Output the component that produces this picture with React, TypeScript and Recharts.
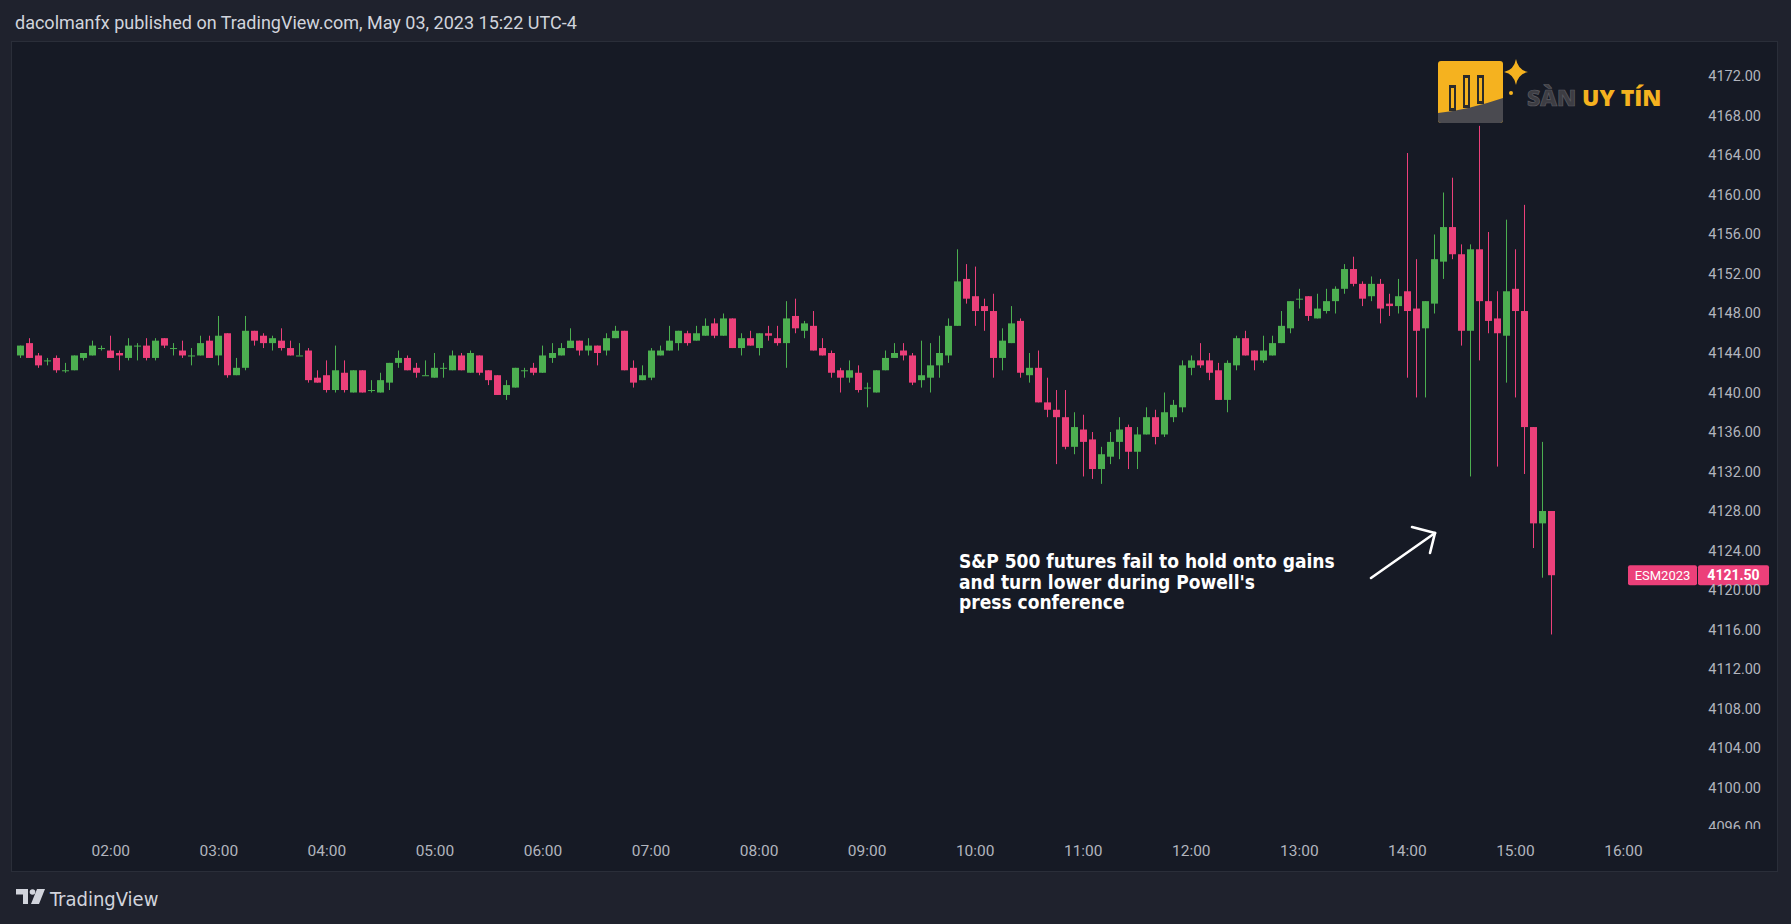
import React from "react";
import { ComposedChart, Bar, XAxis, YAxis, ReferenceLine } from "recharts";

// 5 minute candles, ESM2023, May 03 2023 (UTC-4)
const times = [
  "01:10", "01:15", "01:20", "01:25", "01:30", "01:35", "01:40", "01:45", "01:50", "01:55",
  "02:00", "02:05", "02:10", "02:15", "02:20", "02:25", "02:30", "02:35", "02:40", "02:45", "02:50", "02:55",
  "03:00", "03:05", "03:10", "03:15", "03:20", "03:25", "03:30", "03:35", "03:40", "03:45", "03:50", "03:55",
  "04:00", "04:05", "04:10", "04:15", "04:20", "04:25", "04:30", "04:35", "04:40", "04:45", "04:50", "04:55",
  "05:00", "05:05", "05:10", "05:15", "05:20", "05:25", "05:30", "05:35", "05:40", "05:45", "05:50", "05:55",
  "06:00", "06:05", "06:10", "06:15", "06:20", "06:25", "06:30", "06:35", "06:40", "06:45", "06:50", "06:55",
  "07:00", "07:05", "07:10", "07:15", "07:20", "07:25", "07:30", "07:35", "07:40", "07:45", "07:50", "07:55",
  "08:00", "08:05", "08:10", "08:15", "08:20", "08:25", "08:30", "08:35", "08:40", "08:45", "08:50", "08:55",
  "09:00", "09:05", "09:10", "09:15", "09:20", "09:25", "09:30", "09:35", "09:40", "09:45", "09:50", "09:55",
  "10:00", "10:05", "10:10", "10:15", "10:20", "10:25", "10:30", "10:35", "10:40", "10:45", "10:50", "10:55",
  "11:00", "11:05", "11:10", "11:15", "11:20", "11:25", "11:30", "11:35", "11:40", "11:45", "11:50", "11:55",
  "12:00", "12:05", "12:10", "12:15", "12:20", "12:25", "12:30", "12:35", "12:40", "12:45", "12:50", "12:55",
  "13:00", "13:05", "13:10", "13:15", "13:20", "13:25", "13:30", "13:35", "13:40", "13:45", "13:50", "13:55",
  "14:00", "14:05", "14:10", "14:15", "14:20", "14:25", "14:30", "14:35", "14:40", "14:45", "14:50", "14:55",
  "15:00", "15:05", "15:10", "15:15", "15:20",
];

const opens = [
  4143.75, 4145.0, 4143.75, 4143.25, 4143.5, 4142.25, 4142.25, 4143.5, 4143.75, 4144.5,
  4144.25, 4144.0, 4143.5, 4144.75, 4144.75, 4143.5, 4145.5, 4144.5, 4144.25, 4143.75, 4143.75, 4145.25,
  4143.75, 4146.0, 4141.75, 4142.5, 4146.25, 4145.75, 4145.0, 4145.25, 4144.5, 4143.75, 4144.25, 4141.5,
  4141.75, 4140.25, 4142.0, 4140.0, 4142.25, 4140.25, 4140.0, 4141.0, 4143.0, 4143.5, 4142.5, 4141.75,
  4141.5, 4142.5, 4142.25, 4143.75, 4142.0, 4143.75, 4142.25, 4141.75, 4139.75, 4140.5, 4142.25, 4142.5,
  4142.0, 4143.5, 4143.75, 4144.5, 4145.25, 4144.25, 4144.75, 4144.25, 4145.5, 4146.25, 4142.5, 4141.25,
  4141.5, 4143.75, 4144.25, 4145.0, 4146.0, 4145.25, 4145.75, 4147.0, 4145.75, 4147.5, 4144.5, 4145.5,
  4144.5, 4146.0, 4145.5, 4145.0, 4147.75, 4146.25, 4146.75, 4144.5, 4144.0, 4142.25, 4141.5, 4142.0,
  4140.5, 4140.0, 4142.25, 4143.5, 4144.25, 4143.75, 4141.25, 4141.5, 4142.75, 4143.75, 4146.75, 4151.5,
  4149.75, 4148.75, 4148.25, 4143.5, 4145.0, 4147.25, 4141.75, 4142.5, 4139.0, 4138.25, 4137.5, 4134.5,
  4136.25, 4135.25, 4132.25, 4133.5, 4135.0, 4136.5, 4134.0, 4135.75, 4137.5, 4135.75, 4137.5, 4138.5,
  4142.5, 4143.25, 4143.25, 4142.25, 4139.25, 4142.75, 4145.5, 4144.25, 4143.25, 4143.75, 4145.0, 4146.5,
  4149.5, 4149.75, 4147.5, 4148.25, 4149.25, 4150.5, 4152.5, 4151.0, 4149.75, 4151.0, 4149.0, 4148.75,
  4150.25, 4148.5, 4146.5, 4149.0, 4153.25, 4156.75, 4154.0, 4146.25, 4154.5, 4149.25, 4147.5, 4145.75,
  4150.5, 4148.25, 4136.5, 4126.75, 4128.0,
];

const highs = [
  4144.75, 4145.5, 4144.0, 4143.5, 4143.75, 4143.0, 4143.75, 4144.0, 4145.25, 4144.75,
  4145.75, 4144.25, 4145.5, 4145.0, 4145.5, 4145.5, 4145.5, 4145.0, 4145.25, 4144.5, 4145.75, 4145.75,
  4147.75, 4146.0, 4143.5, 4147.75, 4146.25, 4146.0, 4145.75, 4146.5, 4145.25, 4145.0, 4144.5, 4142.25,
  4143.25, 4144.75, 4143.25, 4142.25, 4142.25, 4141.25, 4142.0, 4143.0, 4144.25, 4143.75, 4143.0, 4143.25,
  4144.0, 4143.0, 4144.25, 4144.0, 4144.25, 4143.75, 4142.25, 4141.75, 4141.25, 4142.5, 4142.5, 4143.0,
  4144.75, 4145.0, 4145.0, 4146.5, 4145.25, 4145.5, 4144.75, 4146.0, 4146.75, 4146.25, 4143.25, 4142.75,
  4144.5, 4144.75, 4146.75, 4146.25, 4146.25, 4146.75, 4147.5, 4147.5, 4148.0, 4147.5, 4146.0, 4146.25,
  4146.0, 4146.75, 4146.75, 4149.25, 4149.5, 4147.25, 4148.25, 4145.5, 4144.25, 4142.5, 4143.25, 4142.75,
  4141.0, 4142.25, 4144.25, 4145.0, 4145.0, 4144.0, 4145.25, 4145.0, 4145.75, 4147.5, 4154.5, 4153.0,
  4152.75, 4149.5, 4150.0, 4146.5, 4148.75, 4147.5, 4144.0, 4144.25, 4141.5, 4140.25, 4140.25, 4138.0,
  4137.75, 4136.0, 4134.5, 4136.0, 4137.5, 4136.75, 4136.5, 4138.5, 4138.25, 4140.0, 4139.25, 4143.25,
  4143.75, 4145.0, 4144.0, 4143.0, 4143.25, 4145.75, 4146.25, 4144.25, 4145.75, 4145.75, 4148.25, 4149.25,
  4150.5, 4149.75, 4150.0, 4150.5, 4150.75, 4153.0, 4153.75, 4151.25, 4151.75, 4151.5, 4150.0, 4151.5,
  4164.25, 4153.5, 4149.25, 4156.0, 4160.25, 4161.75, 4155.0, 4155.0, 4167.0, 4156.25, 4150.25, 4157.5,
  4154.5, 4159.0, 4136.5, 4135.0, 4128.0,
];

const lows = [
  4143.5, 4143.5, 4142.5, 4142.75, 4142.0, 4142.0, 4142.25, 4143.25, 4143.75, 4144.25,
  4143.5, 4142.25, 4143.25, 4143.25, 4143.25, 4143.25, 4144.5, 4143.75, 4143.5, 4142.75, 4143.75, 4143.5,
  4142.75, 4141.5, 4141.75, 4142.25, 4144.75, 4144.5, 4144.25, 4144.25, 4143.75, 4143.75, 4141.0, 4141.0,
  4140.0, 4140.0, 4140.0, 4140.0, 4140.0, 4140.0, 4140.0, 4140.25, 4142.5, 4142.25, 4141.5, 4141.75,
  4141.5, 4141.5, 4142.25, 4142.25, 4142.0, 4141.75, 4140.75, 4139.75, 4139.25, 4140.5, 4141.5, 4141.75,
  4142.0, 4143.0, 4143.75, 4144.5, 4143.75, 4143.75, 4142.75, 4143.75, 4145.5, 4142.25, 4140.5, 4141.25,
  4141.25, 4143.75, 4144.25, 4144.25, 4144.75, 4145.25, 4145.75, 4145.5, 4145.75, 4144.5, 4143.75, 4144.75,
  4143.75, 4145.25, 4144.75, 4142.5, 4146.0, 4145.5, 4144.25, 4143.75, 4141.5, 4140.0, 4141.0, 4140.0,
  4138.5, 4140.0, 4142.25, 4143.5, 4143.25, 4140.75, 4140.5, 4140.0, 4141.5, 4143.0, 4146.75, 4149.0,
  4146.75, 4146.25, 4141.5, 4142.25, 4145.0, 4141.5, 4141.0, 4139.0, 4137.5, 4132.75, 4134.25, 4133.75,
  4131.5, 4131.25, 4130.75, 4132.75, 4133.25, 4132.25, 4132.25, 4135.75, 4134.75, 4135.5, 4137.0, 4138.0,
  4141.75, 4142.5, 4141.25, 4139.25, 4138.0, 4142.25, 4143.75, 4142.25, 4143.0, 4143.75, 4145.0, 4146.0,
  4148.5, 4147.25, 4147.5, 4148.0, 4148.0, 4150.0, 4150.75, 4148.75, 4149.25, 4147.0, 4147.75, 4148.0,
  4141.5, 4139.5, 4139.5, 4148.0, 4151.5, 4153.5, 4144.75, 4131.5, 4143.25, 4146.0, 4132.5, 4141.0,
  4139.5, 4131.75, 4124.25, 4121.25, 4115.5,
];

const closes = [
  4144.75, 4143.5, 4142.75, 4143.25, 4142.25, 4142.25, 4143.75, 4144.0, 4144.75, 4144.5,
  4143.5, 4143.75, 4144.75, 4144.75, 4143.5, 4145.25, 4144.75, 4144.5, 4143.75, 4143.75, 4145.0, 4143.5,
  4145.75, 4141.75, 4142.5, 4146.25, 4145.25, 4145.0, 4145.5, 4144.5, 4143.75, 4143.75, 4141.25, 4141.0,
  4140.25, 4142.25, 4140.25, 4142.25, 4140.0, 4140.25, 4141.25, 4143.0, 4143.5, 4142.25, 4142.0, 4141.75,
  4142.5, 4142.5, 4143.75, 4142.25, 4144.0, 4142.0, 4141.25, 4139.75, 4140.75, 4142.5, 4142.25, 4142.0,
  4143.75, 4144.0, 4144.5, 4145.25, 4144.25, 4144.75, 4144.0, 4145.5, 4146.25, 4142.25, 4141.0, 4141.75,
  4144.25, 4144.25, 4145.25, 4146.25, 4145.0, 4146.0, 4146.75, 4145.75, 4147.5, 4144.5, 4145.5, 4144.75,
  4146.0, 4145.75, 4145.0, 4147.5, 4146.5, 4147.0, 4144.25, 4143.75, 4142.0, 4141.5, 4142.25, 4140.25,
  4140.5, 4142.25, 4143.5, 4144.0, 4143.75, 4141.0, 4141.75, 4142.75, 4144.0, 4146.75, 4151.25, 4149.5,
  4148.25, 4148.25, 4143.5, 4145.25, 4147.0, 4142.0, 4142.5, 4139.0, 4138.25, 4137.5, 4134.5, 4136.5,
  4135.0, 4132.25, 4133.75, 4135.0, 4136.25, 4134.0, 4135.75, 4137.5, 4135.5, 4138.0, 4138.75, 4142.75,
  4143.25, 4142.75, 4142.0, 4139.25, 4143.0, 4145.5, 4143.75, 4143.25, 4144.25, 4145.0, 4146.75, 4149.25,
  4149.5, 4147.75, 4148.5, 4149.25, 4150.5, 4152.5, 4151.0, 4149.5, 4151.0, 4148.5, 4148.75, 4149.75,
  4148.25, 4146.25, 4149.25, 4153.5, 4156.75, 4154.0, 4146.25, 4154.5, 4149.25, 4147.25, 4146.0, 4150.25,
  4148.25, 4136.5, 4126.75, 4128.0, 4121.5,
];

const timeTickLabels = [
  "02:00", "03:00", "04:00", "05:00", "06:00", "07:00", "08:00",
  "09:00", "10:00", "11:00", "12:00", "13:00", "14:00", "15:00", "16:00",
];

const priceTicks = [
  4096, 4100, 4104, 4108, 4112, 4116, 4120, 4124, 4128, 4132,
  4136, 4140, 4144, 4148, 4152, 4156, 4160, 4164, 4168, 4172,
];

const symbol = "ESM2023";

const UP = "#4caf50";
const DOWN = "#ec407a";
const AXIS_TEXT = "#b2b5be";
const PANE_BG = "#161a25";
const OUTER_BG = "#1f222d";
const FONT = "Roboto, 'Noto Sans', sans-serif";

const toMinutes = (s: string) => {
  const [h, m] = s.split(":").map(Number);
  return h * 60 + m;
};

const rows = times.map((s, i) => ({
  t: toMinutes(s),
  open: opens[i],
  high: highs[i],
  low: lows[i],
  close: closes[i],
  range: [lows[i], highs[i]],
}));

const lastClose = closes[closes.length - 1];

const CHART_W = 1766;
const CHART_H = 829;
const PLOT_BOTTOM = 789;

const Candle = (props: any) => {
  const { x, y, width, height } = props;
  const d = props.payload ?? props;
  if (d == null || d.high == null) return null;
  const top = Math.min(y, y + height);
  const span = Math.abs(height);
  const k = d.high > d.low ? span / (d.high - d.low) : 0;
  const yOf = (v: number) => top + (d.high - v) * k;
  const color = d.close >= d.open ? UP : DOWN;
  const left = Math.round(x + width / 2 - 3.5);
  const bodyTop = yOf(Math.max(d.open, d.close));
  const bodyH = Math.max(1, yOf(Math.min(d.open, d.close)) - bodyTop);
  return (
    <g>
      <rect x={left + 3} y={top} width={1} height={Math.max(1, span)} fill={color} />
      <rect x={left} y={bodyTop} width={7} height={bodyH} fill={color} />
    </g>
  );
};

const PriceTick = (props: any) => {
  const { x, y, payload } = props;
  return (
    <text
      x={x + 71}
      y={y + 5}
      textAnchor="end"
      fill={AXIS_TEXT}
      fontSize={14.5}
      fontFamily={FONT}
      clipPath="url(#priceClip)"
    >
      {Number(payload.value).toFixed(2)}
    </text>
  );
};

const TimeTick = (props: any) => {
  const { x, y, payload } = props;
  const v = Number(payload.value);
  const label = timeTickLabels.find((s) => toMinutes(s) === v) ?? "";
  return (
    <text x={x} y={y + 25} textAnchor="middle" fill={AXIS_TEXT} fontSize={15.5} fontFamily={FONT}>
      {label}
    </text>
  );
};

const PriceTag = (props: any) => {
  const vb = props.viewBox;
  if (!vb) return null;
  const right = vb.x + vb.width;
  const cy = vb.y;
  return (
    <g>
      <rect x={right - 62} y={cy - 10} width={69} height={20} rx={2} fill={DOWN} />
      <text x={right - 27.5} y={cy + 4.5} textAnchor="middle" fill="#fff" fontSize={13} fontFamily={FONT}>
        {symbol}
      </text>
      <rect x={right + 8} y={cy - 10} width={71} height={20} rx={2} fill={DOWN} />
      <text x={right + 43.5} y={cy + 5} textAnchor="middle" fill="#fff" fontSize={14} fontWeight={700} fontFamily={FONT}>
        {lastClose.toFixed(2)}
      </text>
    </g>
  );
};

function Watermark() {
  return (
    <svg width={240} height={80} style={{ position: "absolute", left: 1430, top: 52 }}>
      <g transform="translate(8,9)">
        <rect x={0} y={0} width={65} height={62} rx={3} fill="#f5b21f" />
        <path d="M0,52 Q30,49 65,37 L65,59 Q65,62 62,62 L3,62 Q0,62 0,59 Z" fill="#4a4a50" />
        <rect x={11} y={24} width={7} height={26} fill="#2b2b2b" />
        <rect x={25} y={14} width={7} height={33} fill="#2b2b2b" />
        <rect x={39} y={14} width={7} height={29} fill="#2b2b2b" />
        <rect x={13} y={27} width={3} height={20} fill="#f5b21f" />
        <rect x={27} y={17} width={3} height={27} fill="#f5b21f" />
        <rect x={41} y={17} width={3} height={23} fill="#f5b21f" />
      </g>
      <path d="M86,7 Q88,18 98,20 Q88,22 86,33 Q84,22 74,20 Q84,18 86,7 Z" fill="#f5b21f" />
      <circle cx={81} cy={41} r={2} fill="#f5b21f" />
      <text x={97} y={54} fontSize={23} fontWeight={800} fontFamily="'Open Sans', sans-serif" fill="#3d3d43" stroke="#5c5c62" strokeWidth={0.7}>
        SÀN
      </text>
      <text x={152} y={54} fontSize={23} fontWeight={800} fontFamily="'Open Sans', sans-serif" fill="#f5b21f">
        UY TÍN
      </text>
    </svg>
  );
}

function TvLogo() {
  return (
    <svg width={170} height={30} style={{ position: "absolute", left: 14, top: 884 }}>
      <path d="M2,5 H14 V20 H9 V10.5 H2 Z" fill="#d1d4dc" />
      <circle cx={18.5} cy={8} r={2.8} fill="#d1d4dc" />
      <path d="M23,5 H31 L25,20 H17 Z" fill="#d1d4dc" />
      <text x={36} y={22} fontSize={20} fontFamily="'DejaVu Sans Condensed', 'DejaVu Sans', sans-serif" fill="#d1d4dc">
        TradingView
      </text>
    </svg>
  );
}

export default function App() {
  return (
    <div
      style={{
        position: "absolute",
        left: 0,
        top: 0,
        width: 1791,
        height: 924,
        background: OUTER_BG,
        overflow: "hidden",
        fontFamily: FONT,
      }}
    >
      <div style={{ position: "absolute", left: 15, top: 13, fontSize: 18, lineHeight: "20px", color: "#d1d4dc", whiteSpace: "nowrap" }}>
        dacolmanfx published on TradingView.com, May 03, 2023 15:22 UTC-4
      </div>

      <div
        style={{
          position: "absolute",
          left: 11,
          top: 41,
          width: 1767,
          height: 831,
          boxSizing: "border-box",
          background: PANE_BG,
          border: "1px solid #2a2e39",
        }}
      />

      <div style={{ position: "absolute", left: 11, top: 42 }}>
        <ComposedChart
          width={CHART_W}
          height={CHART_H}
          data={rows}
          margin={{ top: 0, right: 0, bottom: 0, left: 0 }}
        >
          <defs>
            <clipPath id="priceClip">
              <rect x={0} y={0} width={CHART_W} height={PLOT_BOTTOM - 2} />
            </clipPath>
          </defs>
          <XAxis
            dataKey="t"
            type="number"
            domain={[64.58, 996.93]}
            ticks={timeTickLabels.map(toMinutes)}
            allowDataOverflow
            axisLine={false}
            tickLine={false}
            tickSize={0}
            tickMargin={0}
            height={CHART_H - PLOT_BOTTOM}
            tick={TimeTick}
            interval={0}
          />
          <YAxis
            orientation="right"
            type="number"
            domain={[4095.6, 4175.49]}
            ticks={priceTicks}
            allowDataOverflow
            axisLine={false}
            tickLine={false}
            tickSize={0}
            tickMargin={0}
            width={87}
            tick={PriceTick}
            interval={0}
          />
          <Bar dataKey="range" barSize={7} shape={Candle} isAnimationActive={false} />
          <ReferenceLine y={lastClose} stroke="none" label={PriceTag} ifOverflow="visible" />
        </ComposedChart>
      </div>

      <div
        style={{
          position: "absolute",
          left: 959,
          top: 551,
          fontSize: 19,
          lineHeight: "20.5px",
          fontWeight: 700,
          color: "#ffffff",
          fontFamily: "'DejaVu Sans Condensed', 'DejaVu Sans', sans-serif",
          whiteSpace: "pre",
        }}
      >
        {"S&P 500 futures fail to hold onto gains\nand turn lower during Powell's\npress conference"}
      </div>

      <svg width={1791} height={924} style={{ position: "absolute", left: 0, top: 0, pointerEvents: "none" }}>
        <g stroke="#ffffff" strokeWidth={2.6} strokeLinecap="round" fill="none">
          <line x1={1371} y1={578} x2={1435} y2={533} />
          <line x1={1435} y1={533} x2={1412} y2={527} />
          <line x1={1435} y1={533} x2={1430} y2={553} />
        </g>
      </svg>

      <Watermark />
      <TvLogo />
    </div>
  );
}
